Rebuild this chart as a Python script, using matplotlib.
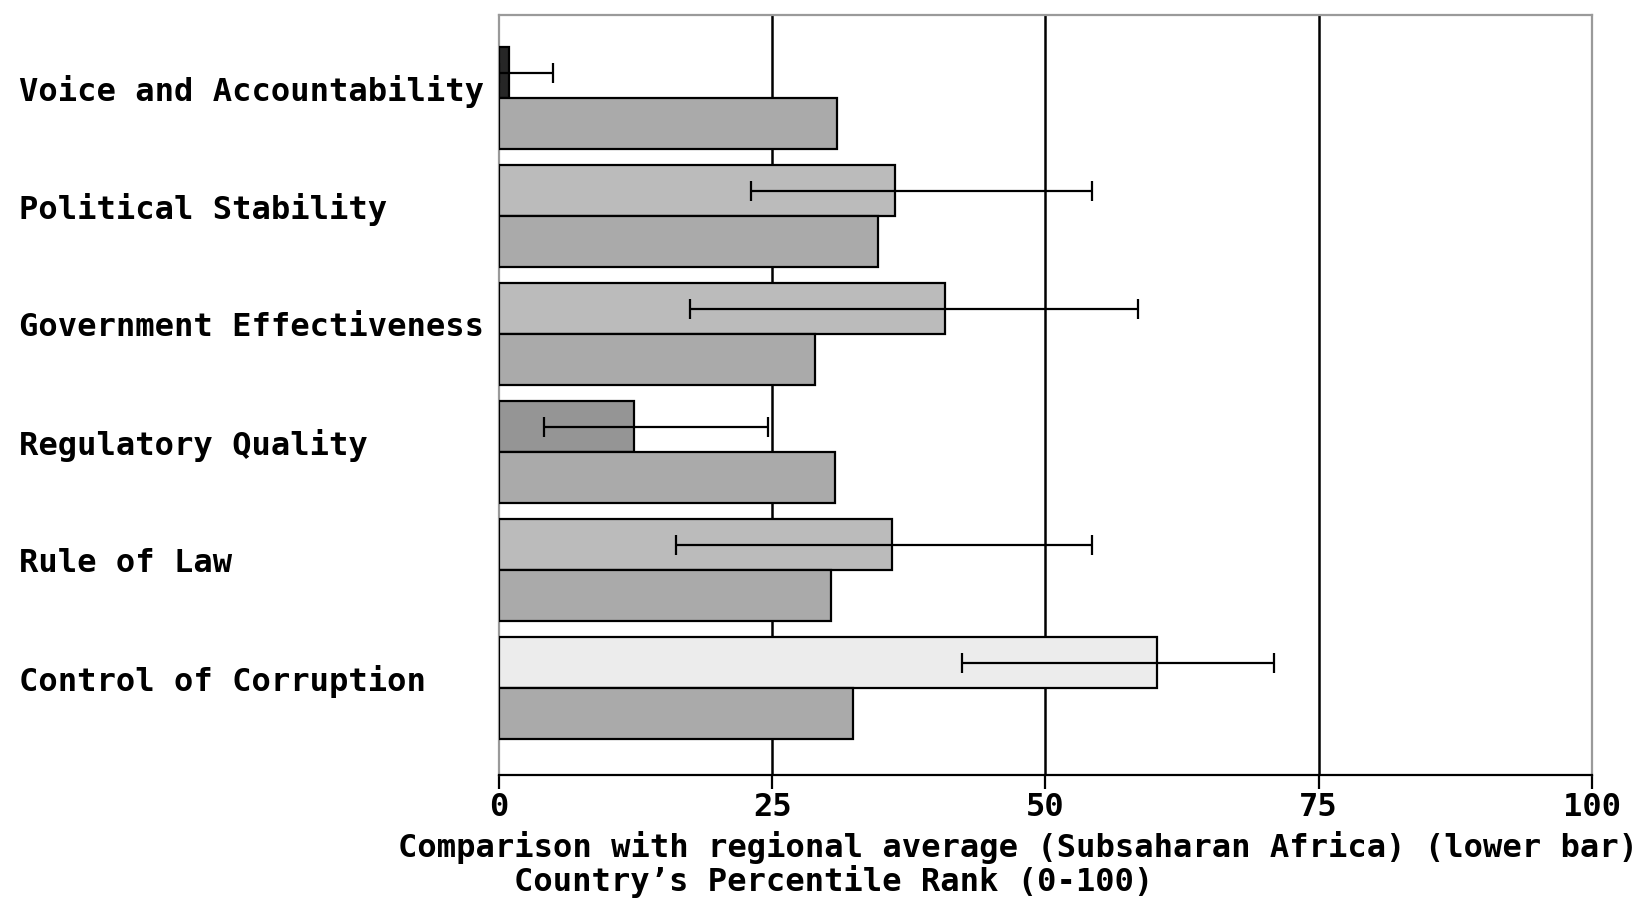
import matplotlib
matplotlib.use("Agg")
import matplotlib.pyplot as plt
import matplotlib.transforms as mtransforms
import numpy as np

# indicators, top to bottom
indicators = ["Voice and Accountability", "Political Stability",
              "Government Effectiveness", "Regulatory Quality",
              "Rule of Law", "Control of Corruption"]

# country percentile rank (upper bar) with margin of error
country = [0.9, 36.2, 40.8, 12.4, 36.0, 60.2]
err_low = [0.0, 23.1, 17.5, 4.1, 16.2, 42.4]
err_high = [4.9, 54.3, 58.5, 24.6, 54.3, 70.9]
country_colors = ["#262626", "#bbbbbb", "#bbbbbb", "#959595", "#bbbbbb", "#ececec"]

# regional average, Subsaharan Africa (lower bar)
regional = [30.9, 34.7, 28.9, 30.7, 30.4, 32.4]

xticks = [0, 25, 50, 75, 100]

font = {"family": "DejaVu Sans Mono", "weight": "bold", "size": 23.1}

fig = plt.figure(figsize=(16.37, 8.98), dpi=100)
ax = fig.add_axes([0.3048, 0.137, 0.6677, 0.8467])

pos = np.arange(len(indicators))
h = 0.434

ax.barh(pos - h / 2, country, height=h, color=country_colors,
        edgecolor="black", linewidth=1.6, zorder=3)
ax.barh(pos + h / 2, regional, height=h, color="#aaaaaa",
        edgecolor="black", linewidth=1.6, zorder=3)

c = np.array(country)
xerr = [c - np.array(err_low), np.array(err_high) - c]
ax.errorbar(country, pos - h / 2, xerr=xerr, fmt="none", ecolor="black",
            elinewidth=1.6, capsize=7, capthick=1.6, zorder=4)

for v in xticks[1:-1]:
    ax.axvline(v, color="black", linewidth=1.8, zorder=1)

ax.set_xlim(0, 100)
ax.set_ylim(5.735, -0.708)
ax.set_yticks([])
ax.set_xticks(xticks)
ax.set_xticklabels([str(t) for t in xticks], fontdict=font)
ax.tick_params(axis="x", length=10, width=1.6, pad=2, colors="black")

for s in ["top", "right", "left"]:
    ax.spines[s].set_color("#9a9a9a")
    ax.spines[s].set_linewidth(1.6)
ax.spines["bottom"].set_linewidth(1.6)

trans = mtransforms.blended_transform_factory(fig.transFigure, ax.transData)
for i, name in enumerate(indicators):
    ax.text(19 / 1637, i - 0.055, name, transform=trans, ha="left",
            va="center", fontdict=font)

fig.text(398 / 1637, 1 - 848 / 898,
         "Comparison with regional average (Subsaharan Africa) (lower bar)",
         ha="left", va="center", fontdict=font)
fig.text(514 / 1637, 1 - 882 / 898, "Country\u2019s Percentile Rank (0-100)",
         ha="left", va="center", fontdict=font)

fig.savefig("out.png", dpi=100, facecolor="white")
